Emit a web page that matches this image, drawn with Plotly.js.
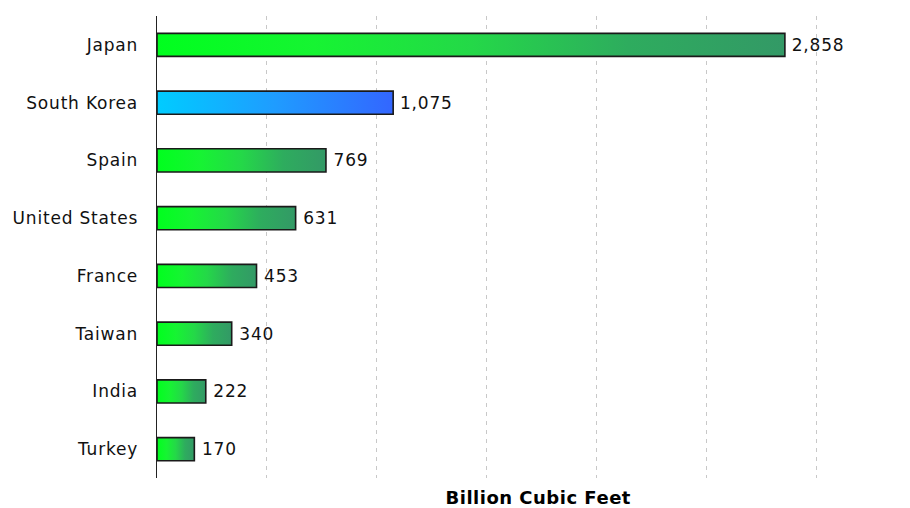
<!DOCTYPE html>
<html>
<head>
<meta charset="utf-8">
<script src="https://cdn.plot.ly/plotly-3.0.1.min.js"></script>
<style>
html,body{margin:0;padding:0;background:#fff;}
#chart{width:910px;height:508px;}
</style>
</head>
<body>
<div id="chart"></div>
<script>
const countries = ["Japan","South Korea","Spain","United States","France","Taiwan","India","Turkey"];
const values = [2858,1075,769,631,453,340,222,170];
const axisTitle = "Billion Cubic Feet";

const gradients = {
  green: [[0, "#00ff1e"], [0.25, "#16f432"], [0.5, "#24d848"], [0.75, "#2eac5e"], [1, "#339966"]],
  blue: [[0, "#00ccff"], [0.5, "#1f9cff"], [1, "#3366ff"]]
};
const barGradient = countries.map(c => c === "South Korea" ? "blue" : "green");

const FONT = "DejaVu Sans, Verdana, sans-serif";

const trace = {
  type: "bar",
  orientation: "h",
  y: countries,
  x: values,
  width: 0.4,
  marker: {
    color: barGradient.map(g => gradients[g][gradients[g].length - 1][1]),
    line: {color: "#1a1a1a", width: 1.6}
  },
  texttemplate: " %{x:,}",
  textposition: "outside",
  cliponaxis: false,
  textfont: {family: FONT, size: 17, color: "#111"},
  hoverinfo: "none"
};

const layout = {
  width: 910, height: 508,
  margin: {l: 157, r: 28, t: 16, b: 30},
  paper_bgcolor: "#fff",
  plot_bgcolor: "#fff",
  showlegend: false,
  font: {family: FONT, size: 17, color: "#111"},
  xaxis: {
    range: [0, 3300],
    dtick: 500,
    tick0: 0,
    showgrid: true,
    gridcolor: "#c8c8c8",
    gridwidth: 1,
    griddash: "4px,5px",
    showticklabels: false,
    ticks: "",
    zeroline: false,
    showline: false,
    fixedrange: true
  },
  yaxis: {
    autorange: "reversed",
    showline: true,
    linecolor: "#222",
    linewidth: 1.5,
    ticks: "",
    ticklabelstandoff: 14,
    tickfont: {family: FONT, size: 17, color: "#111"},
    showgrid: false,
    zeroline: false,
    fixedrange: true
  },
  annotations: [{
    text: "<b>" + axisTitle + "</b>",
    xref: "paper", yref: "paper",
    x: (538 - 157) / 725, y: 0,
    yshift: -19,
    xanchor: "center", yanchor: "middle",
    showarrow: false,
    font: {family: FONT, size: 18, color: "#000"}
  }]
};

Plotly.newPlot("chart", [trace], layout, {staticPlot: true, displayModeBar: false}).then(gd => {
  const svgNS = "http://www.w3.org/2000/svg";
  const svg = gd.querySelector("svg.main-svg");
  let defs = svg.querySelector("defs");
  if (!defs) { defs = document.createElementNS(svgNS, "defs"); svg.insertBefore(defs, svg.firstChild); }
  Object.keys(gradients).forEach(name => {
    const lg = document.createElementNS(svgNS, "linearGradient");
    lg.setAttribute("id", "grad-" + name);
    lg.setAttribute("x1", "0"); lg.setAttribute("y1", "0");
    lg.setAttribute("x2", "1"); lg.setAttribute("y2", "0");
    gradients[name].forEach(([off, col]) => {
      const st = document.createElementNS(svgNS, "stop");
      st.setAttribute("offset", String(off));
      st.setAttribute("stop-color", col);
      lg.appendChild(st);
    });
    defs.appendChild(lg);
  });
  const paths = gd.querySelectorAll(".barlayer .trace .point path");
  paths.forEach((p, i) => {
    p.style.fill = "url(#grad-" + barGradient[i] + ")";
    p.style.fillOpacity = 1;
  });
  gd.querySelectorAll(".ytick text, .barlayer text").forEach(t => { t.style.letterSpacing = "0.8px"; });
  gd.querySelectorAll(".annotation-text").forEach(t => { t.style.letterSpacing = "0.5px"; });
});
</script>
</body>
</html>
